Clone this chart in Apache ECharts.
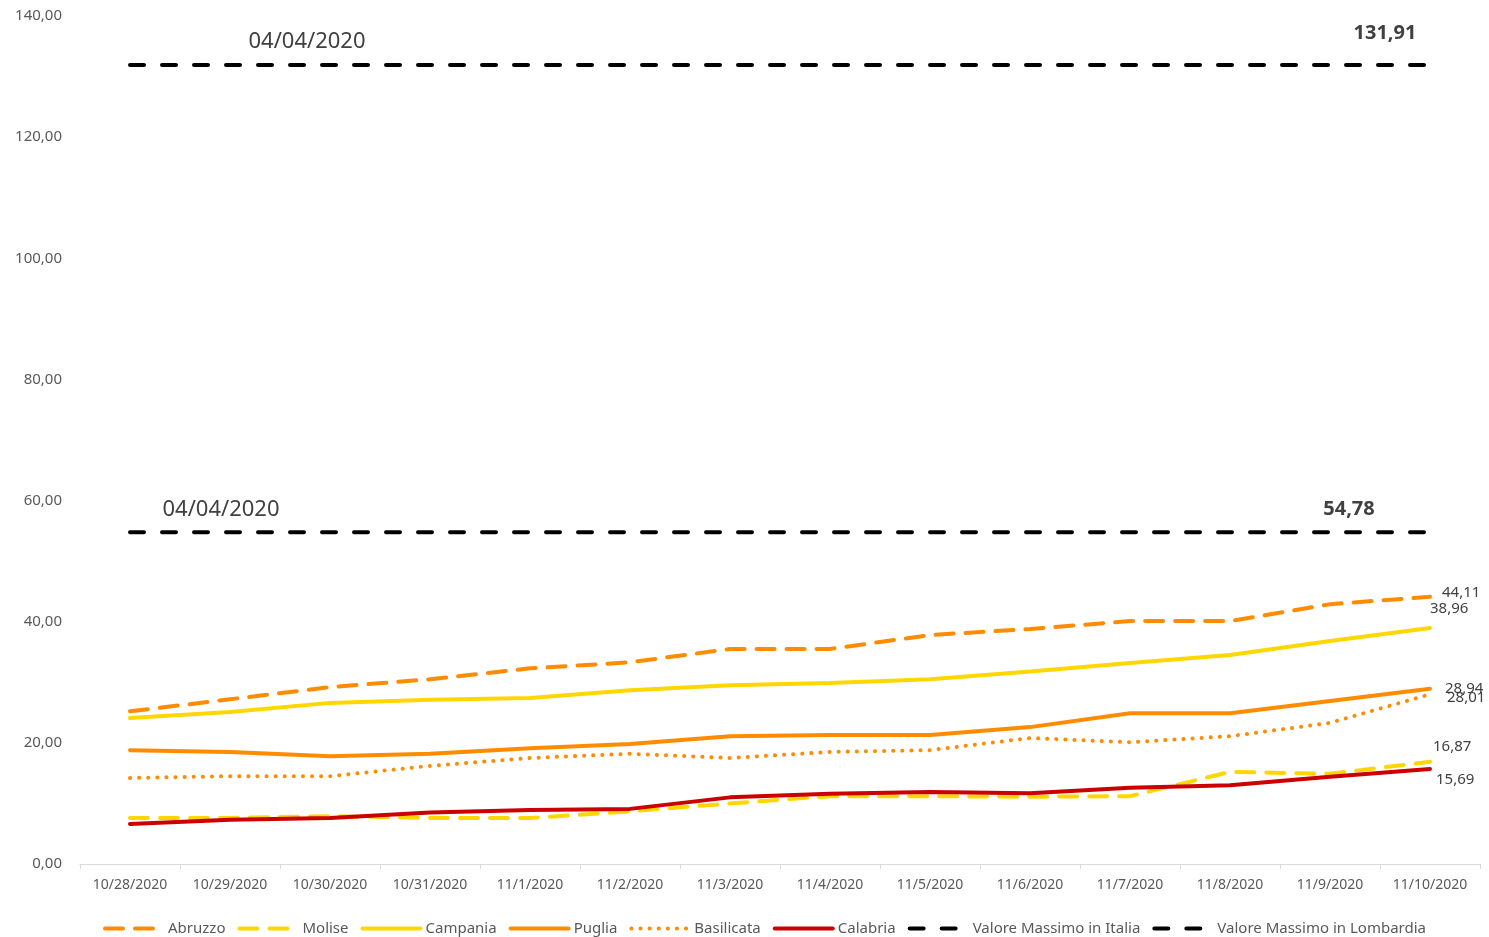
<!DOCTYPE html>
<html>
<head>
<meta charset="utf-8">
<style>
html,body{margin:0;padding:0;background:#fff;}
#c{width:1489px;height:937px;}
</style>
<script src="https://cdn.jsdelivr.net/npm/echarts@6/dist/echarts.min.js"></script>
</head>
<body>
<div id="c"></div>
<script>
const categories = ['10/28/2020','10/29/2020','10/30/2020','10/31/2020','11/1/2020','11/2/2020','11/3/2020','11/4/2020','11/5/2020','11/6/2020','11/7/2020','11/8/2020','11/9/2020','11/10/2020'];
const abruzzo    = [25.2, 27.2, 29.2, 30.5, 32.3, 33.3, 35.5, 35.5, 37.8, 38.8, 40.1, 40.1, 42.9, 44.11];
const molise     = [7.6, 7.6, 7.9, 7.6, 7.6, 8.7, 10.0, 11.2, 11.2, 11.1, 11.2, 15.2, 14.9, 16.87];
const campania   = [24.1, 25.1, 26.6, 27.1, 27.4, 28.7, 29.5, 29.9, 30.5, 31.8, 33.2, 34.5, 36.8, 38.96];
const puglia     = [18.8, 18.5, 17.8, 18.2, 19.1, 19.8, 21.1, 21.3, 21.3, 22.6, 24.9, 24.9, 26.9, 28.94];
const basilicata = [14.2, 14.5, 14.5, 16.2, 17.5, 18.2, 17.5, 18.5, 18.8, 20.8, 20.1, 21.1, 23.3, 28.01];
const calabria   = [6.6, 7.3, 7.6, 8.5, 8.9, 9.1, 11.0, 11.6, 11.9, 11.7, 12.6, 13.0, 14.4, 15.69];
const italiaMax    = [131.91, 131.91, 131.91, 131.91, 131.91, 131.91, 131.91, 131.91, 131.91, 131.91, 131.91, 131.91, 131.91, 131.91];
const lombardiaMax = [54.78, 54.78, 54.78, 54.78, 54.78, 54.78, 54.78, 54.78, 54.78, 54.78, 54.78, 54.78, 54.78, 54.78];
const peakDate = '04/04/2020';
const yTicks = [0, 20, 40, 60, 80, 100, 120, 140];

const fmt = v => v.toFixed(2).replace('.', ',');
const FONT = 'Noto Sans';
const TXT = '#404040';

function withEndLabel(arr, offset) {
  return arr.map((v, i) => i === arr.length - 1
    ? { value: v, label: { show: true, position: 'inside', offset: offset, formatter: fmt(v), fontSize: 15, color: TXT, fontFamily: FONT, align: 'left', verticalAlign: 'middle' } }
    : v);
}
function withRefLabels(arr, dateIdx, dateOffset, valOffset) {
  const last = arr.length - 1;
  return arr.map((v, i) => {
    if (i === dateIdx) return { value: v, label: { show: true, position: 'inside', offset: dateOffset, formatter: peakDate, fontSize: 22, color: TXT, fontFamily: FONT, align: 'center', verticalAlign: 'middle' } };
    if (i === last) return { value: v, label: { show: true, position: 'inside', offset: valOffset, formatter: fmt(v), fontSize: 20, fontWeight: 'bold', color: TXT, fontFamily: FONT, align: 'center', verticalAlign: 'middle' } };
    return v;
  });
}

function line(name, data, color, type) {
  return {
    name: name, type: 'line', data: data, symbol: 'circle', symbolSize: 0, showSymbol: true, smooth: false,
    lineStyle: { color: color, width: 4, type: type, cap: 'round' },
    itemStyle: { color: color },
    label: { show: false },
    emphasis: { disabled: true },
    animation: false
  };
}

const chart = echarts.init(document.getElementById('c'));
chart.setOption({
  backgroundColor: '#ffffff',
  animation: false,
  grid: { left: 80, right: 9, top: 16, bottom: 73 },
  xAxis: {
    type: 'category', data: categories, boundaryGap: true,
    axisLine: { lineStyle: { color: '#d9d9d9', width: 1 } },
    axisTick: { show: true, length: 5, interval: 0, lineStyle: { color: '#d9d9d9' } },
    axisLabel: { interval: 0, margin: 14, fontSize: 14, color: '#595959', fontFamily: FONT }
  },
  yAxis: {
    type: 'value', min: yTicks[0], max: yTicks[yTicks.length - 1], interval: 20,
    axisLine: { show: false }, axisTick: { show: false }, splitLine: { show: false },
    axisLabel: { formatter: fmt, fontSize: 15, color: '#595959', fontFamily: FONT, margin: 18 }
  },
  legend: {
    top: 916, left: 98, itemWidth: 58, itemHeight: 14, itemGap: 12,
    itemStyle: { opacity: 0 },
    lineStyle: { width: 4 },
    textStyle: { fontSize: 15, color: '#595959', fontFamily: FONT },
    data: ['Abruzzo','Molise','Campania','Puglia','Basilicata','Calabria','Valore Massimo in Italia','Valore Massimo in Lombardia']
  },
  series: [
    line('Abruzzo', withEndLabel(abruzzo, [12, -4]), '#FF8C00', [18, 12]),
    line('Molise', withEndLabel(molise, [3, -15]), '#FFD700', [18, 12]),
    line('Campania', withEndLabel(campania, [0, -19]), '#FFD700', 'solid'),
    line('Puglia', withEndLabel(puglia, [15, 0]), '#FF8C00', 'solid'),
    line('Basilicata', withEndLabel(basilicata, [17, 3]), '#FF8C00', [0.1, 9]),
    line('Calabria', withEndLabel(calabria, [6, 11]), '#CC0000', 'solid'),
    line('Valore Massimo in Italia', withRefLabels(italiaMax, 2, [-23, -23], [-45, -32]), '#000000', [14, 18]),
    line('Valore Massimo in Lombardia', withRefLabels(lombardiaMax, 1, [-9, -22], [-81, -23]), '#000000', [14, 18])
  ]
});
</script>
</body>
</html>
